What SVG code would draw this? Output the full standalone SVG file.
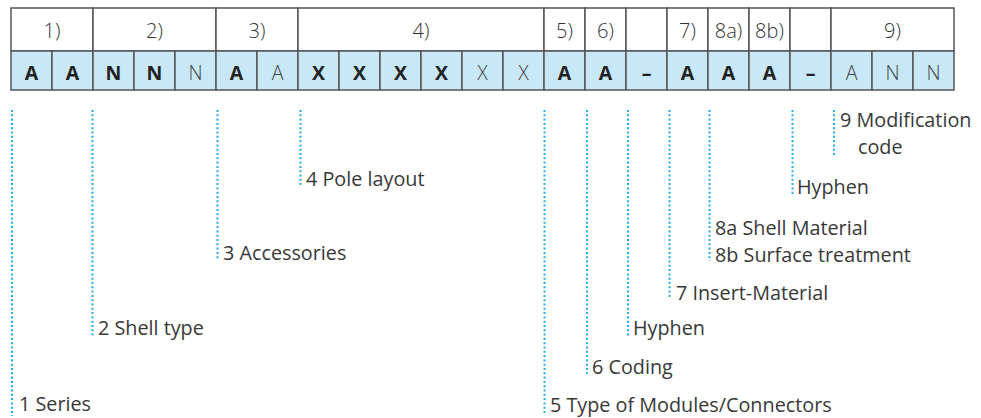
<svg xmlns="http://www.w3.org/2000/svg" width="981" height="418" viewBox="0 0 981 418">
<style>
.hdr{fill:#fff;stroke:#555;stroke-width:1.5}
.cell{fill:#C8E8F8;stroke:#555;stroke-width:1.5}
.ht{font-family:"Open Sans","Noto Sans",sans-serif;font-size:20px;fill:#333;text-anchor:middle;font-weight:300}
.cb{font-family:"Open Sans","Noto Sans",sans-serif;font-size:19.5px;fill:#222;text-anchor:middle;font-weight:700}
.cl{font-family:"Open Sans","Noto Sans",sans-serif;font-size:19.5px;fill:#444;text-anchor:middle;font-weight:300}
.lbl{font-family:"Open Sans","Noto Sans",sans-serif;font-size:19.8px;fill:#383838;font-weight:400}
.lead{stroke:#22AEEA;stroke-width:2;stroke-dasharray:2 2.3;fill:none}
</style>
<g id="header">
<rect class="hdr" x="11" y="8" width="82" height="43"/>
<rect class="hdr" x="93" y="8" width="123" height="43"/>
<rect class="hdr" x="216" y="8" width="82" height="43"/>
<rect class="hdr" x="298" y="8" width="246" height="43"/>
<rect class="hdr" x="544" y="8" width="41" height="43"/>
<rect class="hdr" x="585" y="8" width="41" height="43"/>
<rect class="hdr" x="626" y="8" width="41" height="43"/>
<rect class="hdr" x="667" y="8" width="41" height="43"/>
<rect class="hdr" x="708" y="8" width="41" height="43"/>
<rect class="hdr" x="749" y="8" width="41" height="43"/>
<rect class="hdr" x="790" y="8" width="41" height="43"/>
<rect class="hdr" x="831" y="8" width="123" height="43"/>
<text class="ht" x="52" y="38">1)</text>
<text class="ht" x="154.5" y="38">2)</text>
<text class="ht" x="257" y="38">3)</text>
<text class="ht" x="421" y="38">4)</text>
<text class="ht" x="564.5" y="38">5)</text>
<text class="ht" x="605.5" y="38">6)</text>
<text class="ht" x="687.5" y="38">7)</text>
<text class="ht" x="728.5" y="38">8a)</text>
<text class="ht" x="769.5" y="38">8b)</text>
<text class="ht" x="892.5" y="38">9)</text>
</g>
<g id="code">
<rect class="cell" x="11" y="51" width="41" height="39"/>
<rect class="cell" x="52" y="51" width="41" height="39"/>
<rect class="cell" x="93" y="51" width="41" height="39"/>
<rect class="cell" x="134" y="51" width="41" height="39"/>
<rect class="cell" x="175" y="51" width="41" height="39"/>
<rect class="cell" x="216" y="51" width="41" height="39"/>
<rect class="cell" x="257" y="51" width="41" height="39"/>
<rect class="cell" x="298" y="51" width="41" height="39"/>
<rect class="cell" x="339" y="51" width="41" height="39"/>
<rect class="cell" x="380" y="51" width="41" height="39"/>
<rect class="cell" x="421" y="51" width="41" height="39"/>
<rect class="cell" x="462" y="51" width="41" height="39"/>
<rect class="cell" x="503" y="51" width="41" height="39"/>
<rect class="cell" x="544" y="51" width="41" height="39"/>
<rect class="cell" x="585" y="51" width="41" height="39"/>
<rect class="cell" x="626" y="51" width="41" height="39"/>
<rect class="cell" x="667" y="51" width="41" height="39"/>
<rect class="cell" x="708" y="51" width="41" height="39"/>
<rect class="cell" x="749" y="51" width="41" height="39"/>
<rect class="cell" x="790" y="51" width="41" height="39"/>
<rect class="cell" x="831" y="51" width="41" height="39"/>
<rect class="cell" x="872" y="51" width="41" height="39"/>
<rect class="cell" x="913" y="51" width="41" height="39"/>
<text class="cb" x="31.5" y="79.5">A</text>
<text class="cb" x="72.5" y="79.5">A</text>
<text class="cb" x="113.5" y="79.5">N</text>
<text class="cb" x="154.5" y="79.5">N</text>
<text class="cl" x="195.5" y="79.5">N</text>
<text class="cb" x="236.5" y="79.5">A</text>
<text class="cl" x="277.5" y="79.5">A</text>
<text class="cb" x="318.5" y="79.5">X</text>
<text class="cb" x="359.5" y="79.5">X</text>
<text class="cb" x="400.5" y="79.5">X</text>
<text class="cb" x="441.5" y="79.5">X</text>
<text class="cl" x="482.5" y="79.5">X</text>
<text class="cl" x="523.5" y="79.5">X</text>
<text class="cb" x="564.5" y="79.5">A</text>
<text class="cb" x="605.5" y="79.5">A</text>
<text class="cb" x="646.5" y="79.5">–</text>
<text class="cb" x="687.5" y="79.5">A</text>
<text class="cb" x="728.5" y="79.5">A</text>
<text class="cb" x="769.5" y="79.5">A</text>
<text class="cb" x="810.5" y="79.5">–</text>
<text class="cl" x="851.5" y="79.5">A</text>
<text class="cl" x="892.5" y="79.5">N</text>
<text class="cl" x="933.5" y="79.5">N</text>
</g>
<g id="connectors">
<line class="lead" x1="12" y1="110" x2="12" y2="416"/>
<line class="lead" x1="92.5" y1="110" x2="92.5" y2="336"/>
<line class="lead" x1="217.5" y1="110" x2="217.5" y2="260"/>
<line class="lead" x1="300.5" y1="110" x2="300.5" y2="185"/>
<line class="lead" x1="544.5" y1="110" x2="544.5" y2="413"/>
<line class="lead" x1="587" y1="110" x2="587" y2="374"/>
<line class="lead" x1="628" y1="110" x2="628" y2="336"/>
<line class="lead" x1="669.5" y1="110" x2="669.5" y2="299"/>
<line class="lead" x1="709.5" y1="110" x2="709.5" y2="261"/>
<line class="lead" x1="792.5" y1="110" x2="792.5" y2="194"/>
<line class="lead" x1="834" y1="110" x2="834" y2="155"/>
</g>
<g id="n1"><text class="lbl" x="19" y="411">1 Series</text></g>
<g id="n2"><text class="lbl" x="98" y="335">2 Shell type</text></g>
<g id="n3"><text class="lbl" x="223" y="260">3 Accessories</text></g>
<g id="n4"><text class="lbl" x="306" y="186">4 Pole layout</text></g>
<g id="n5"><text class="lbl" x="550" y="412">5 Type of Modules/Connectors</text></g>
<g id="n6"><text class="lbl" x="592" y="374">6 Coding</text></g>
<g id="hyphen1"><text class="lbl" x="633" y="335">Hyphen</text></g>
<g id="n7"><text class="lbl" x="676" y="300">7 Insert-Material</text></g>
<g id="n8"><text class="lbl" x="715" y="235">8a Shell Material</text><text class="lbl" x="715" y="262">8b Surface treatment</text></g>
<g id="hyphen2"><text class="lbl" x="797" y="194">Hyphen</text></g>
<g id="n9"><text class="lbl" x="840" y="127">9 Modification</text><text class="lbl" x="858" y="154">code</text></g>
</svg>
